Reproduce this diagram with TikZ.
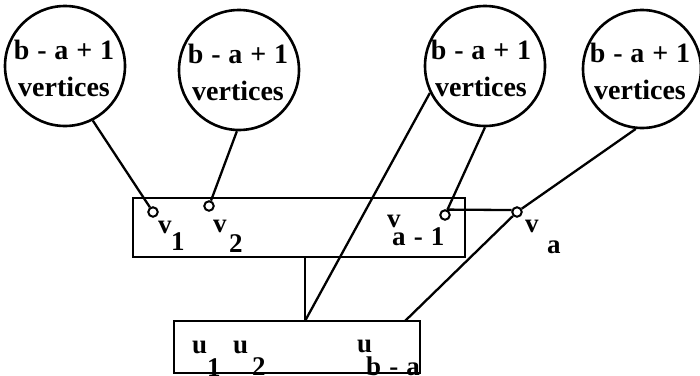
\documentclass[tikz,border=0pt]{standalone}
\usepackage{fontspec}
\setmainfont{Liberation Serif}
\begin{document}
\begin{tikzpicture}[x=1pt,y=-1pt,
  bigcirc/.style={circle,draw,line width=2.6pt,minimum size=#1,inner sep=0pt},
  vtx/.style={circle,draw,fill=white,line width=2pt,minimum size=9.5pt,inner sep=0pt},
  boxnode/.style={rectangle,draw,line width=2.5pt,inner sep=0pt},
  conn/.style={line width=2.3pt},
  lbl/.style={inner sep=0pt,font=\bfseries\fontsize{27}{30}\selectfont},
  ctext/.style={inner sep=0pt,anchor=base,font=\bfseries\fontsize{28}{30}\selectfont}]
\useasboundingbox (0,0) rectangle (700,375);
% big circles
\node[bigcirc=120pt] (c1) at (65,66) {};
\node[bigcirc=120pt] (c2) at (239,70) {};
\node[bigcirc=120pt] (c3) at (485,66) {};
\node[bigcirc=118pt] (c4) at (642,69) {};
\foreach \n/\x/\y in {1/64/66, 2/238/70, 3/481/66, 4/640/69}{
  \node[ctext] (t\n a) at (\x,\y-7) {b\hspace{0.28em}-\hspace{0.28em}a\hspace{0.28em}+\hspace{0.28em}1};
  \node[ctext] (t\n b) at (\x,\y+30) {vertices};
}
% boxes
\node[boxnode,minimum width=332pt,minimum height=59pt] (topbox) at (299,227.5) {};
\node[boxnode,minimum width=246pt,minimum height=52pt] (botbox) at (297,347) {};
\coordinate (j0) at (305,257);
\coordinate (j1) at (305,321);
\coordinate (j2) at (405,321);
% small vertices
\node[vtx] (v1) at (153,212) {};
\node[vtx] (v2) at (209,206) {};
\node[vtx] (va1) at (445,215) {};
\node[vtx] (va) at (517,212) {};
% connectors
\draw[conn] (c1.297) -- (v1);
\draw[conn] (c2.268) -- (v2);
\draw[conn] (c3.270) -- (va1);
\draw[conn] (c3.206) -- (j1);
\draw[conn] (c4.264) -- (va);
\draw[conn] (va) -- (j2);
\draw[conn] (va1.70) -- (va.160);
\draw[conn] (j0) -- (j1);
% labels
\node[lbl,anchor=base west] (lv1) at (158,233) {v};
\node[lbl,anchor=base west] (lv1s) at (171,250) {1};
\node[lbl,anchor=base west] (lv2) at (213,232) {v};
\node[lbl,anchor=base west] (lv2s) at (229,252) {2};
\node[lbl,anchor=base west] (lva1) at (387,227) {v};
\node[lbl,anchor=base west] (lva1s) at (392,245) {a\hspace{0.3em}-\hspace{0.3em}1};
\node[lbl,anchor=base west] (lva) at (525,232) {v};
\node[lbl,anchor=base west] (lvas) at (547,253) {a};
\node[lbl,anchor=base west] (lu1) at (192,353) {u};
\node[lbl,anchor=base west] (lu1s) at (207,376) {1};
\node[lbl,anchor=base west] (lu2) at (233,353) {u};
\node[lbl,anchor=base west] (lu2s) at (252,375) {2};
\node[lbl,anchor=base west] (lub) at (357,352) {u};
\node[lbl,anchor=base west] (lubs) at (366,375) {b\hspace{0.3em}-\hspace{0.3em}a};
\end{tikzpicture}
\end{document}
